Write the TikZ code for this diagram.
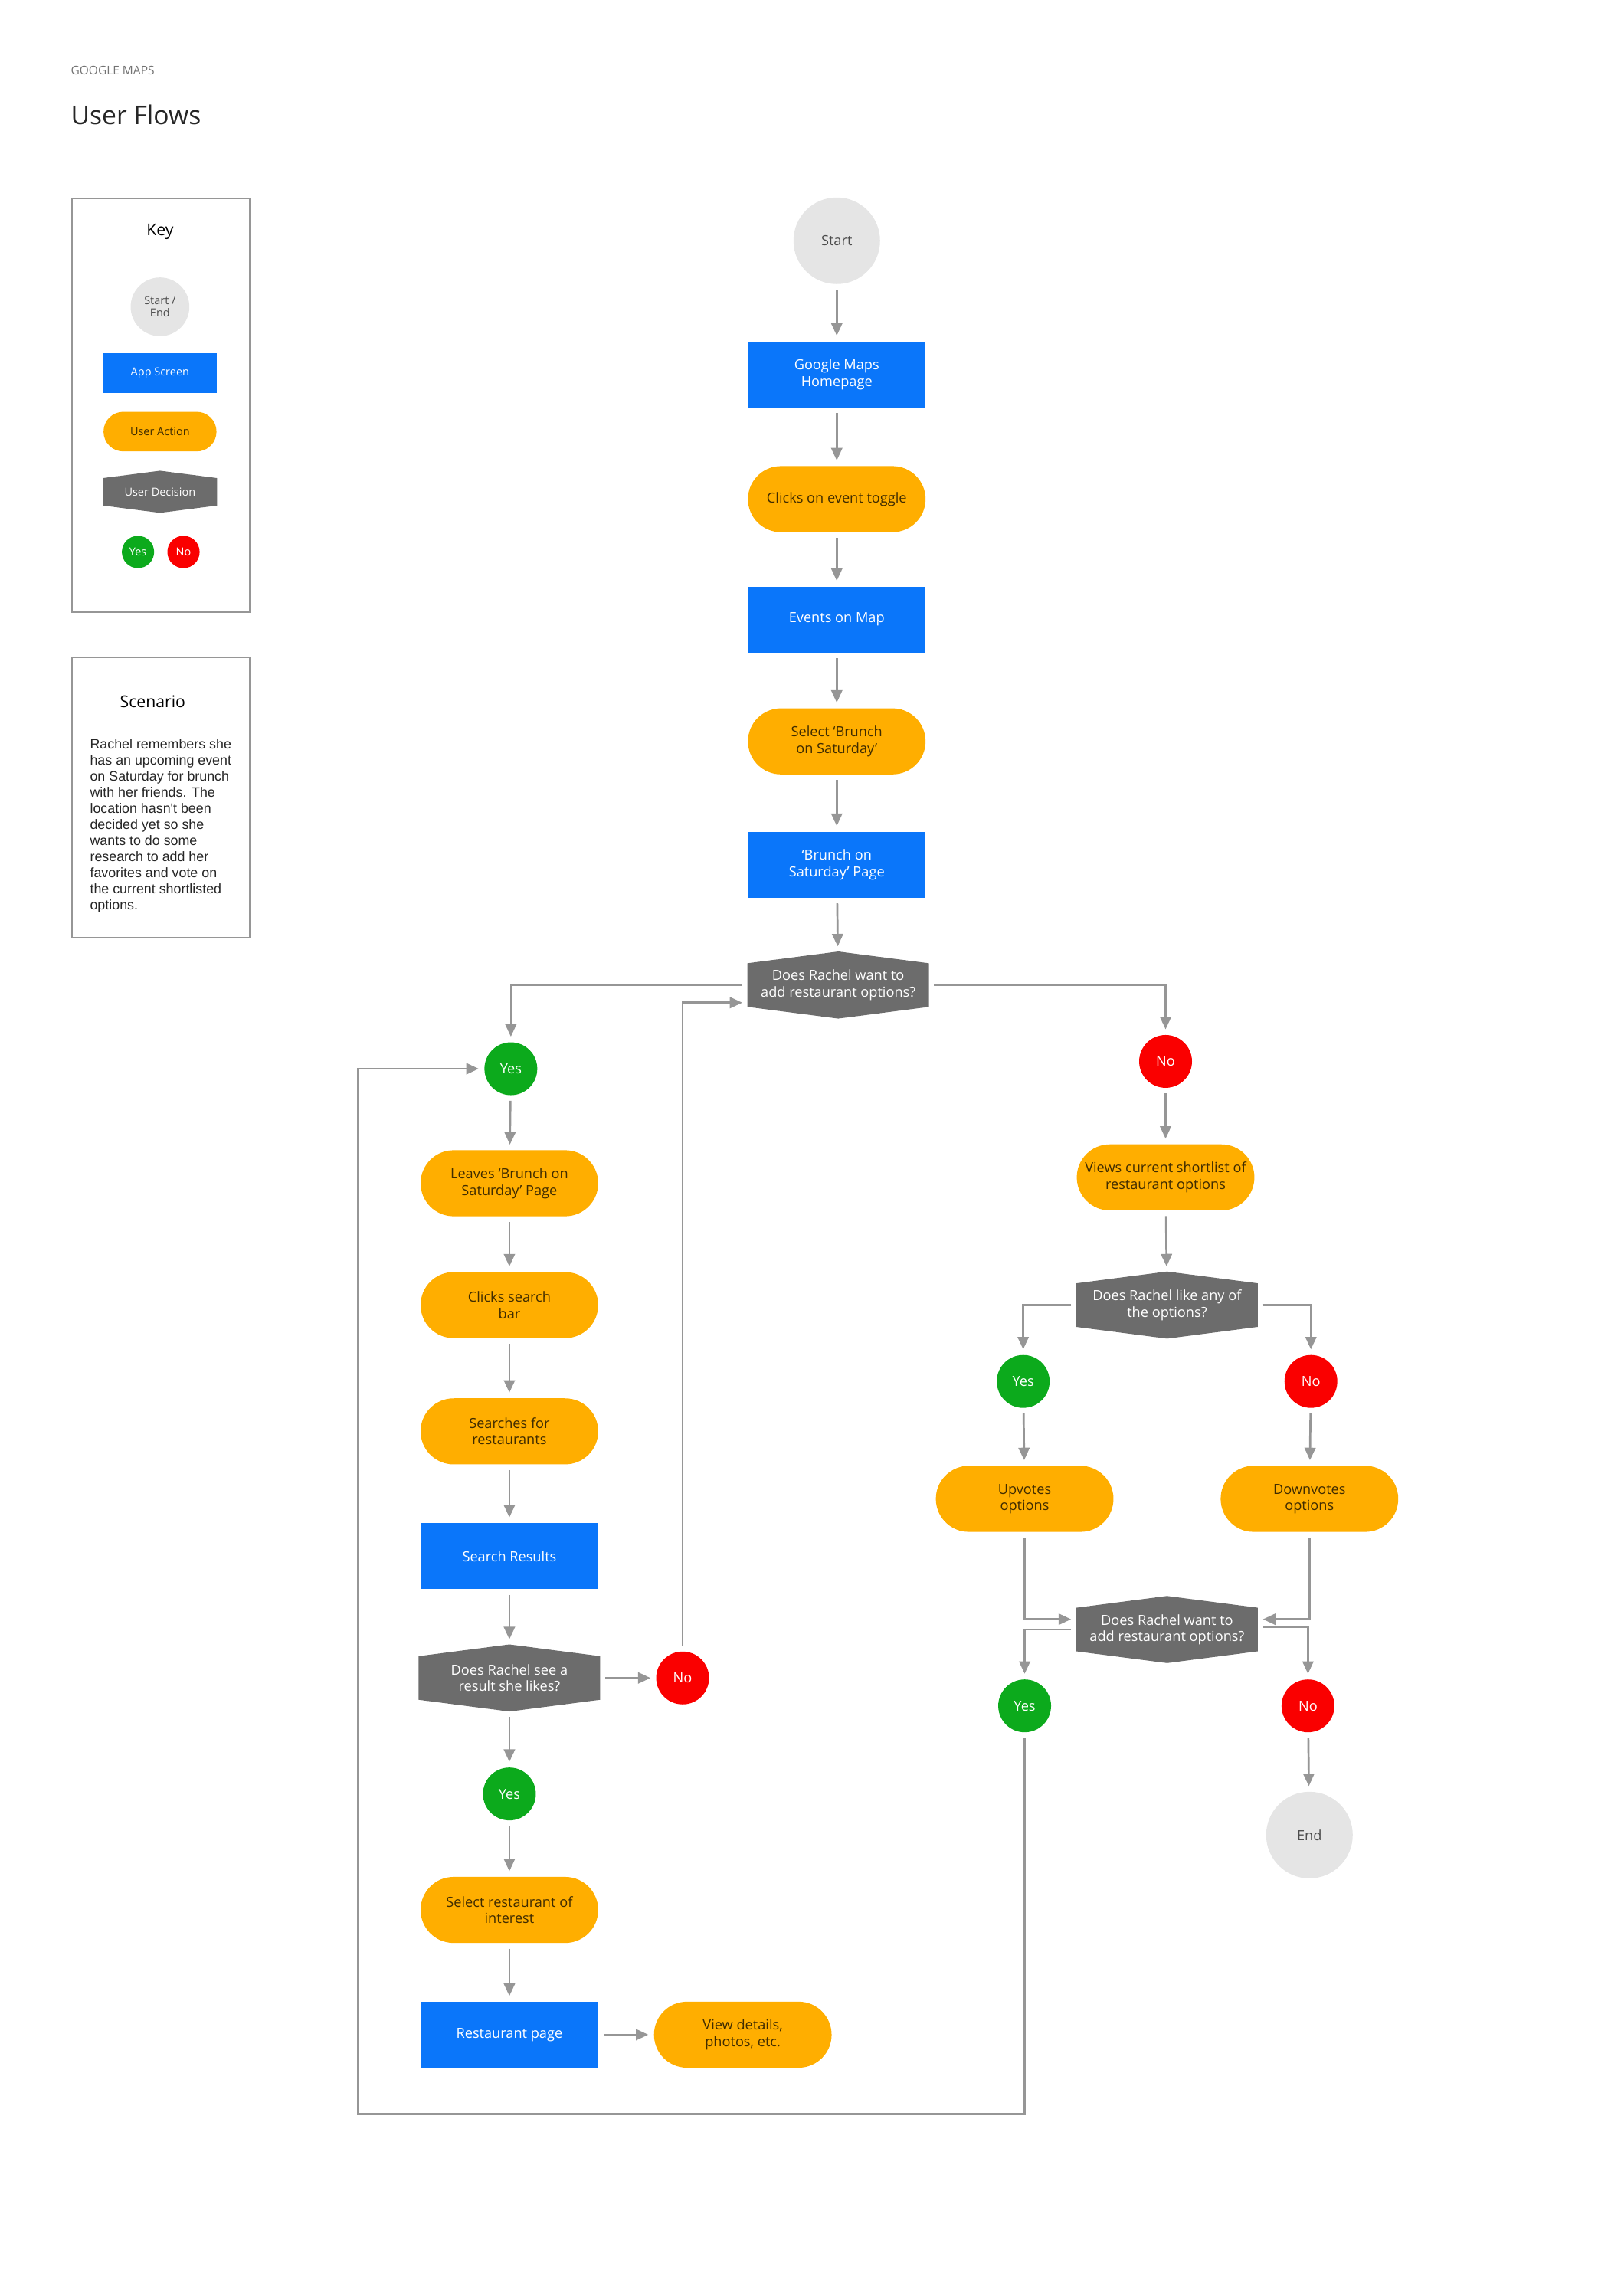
\documentclass[tikz,border=0pt]{standalone}
\usepackage{fontspec}
\setmainfont{Open Sans}
\newfontfamily\scenariofont{Liberation Sans}
\usetikzlibrary{arrows.meta,backgrounds}

\definecolor{screenblue}{RGB}{10,118,250}
\definecolor{actionorange}{RGB}{255,174,0}
\definecolor{decisiongray}{RGB}{108,108,108}
\definecolor{yesgreen}{RGB}{12,170,28}
\definecolor{nored}{RGB}{250,0,0}
\definecolor{endgray}{RGB}{229,229,229}
\definecolor{linegray}{RGB}{150,150,150}

\tikzset{
    txt/.style={font=\fontsize{5.4}{6.4}\selectfont,align=center,inner sep=0pt},
    screen/.style={txt,rectangle,fill=screenblue,text=white,minimum width=2.42cm,minimum height=0.9cm},
    action/.style={txt,rectangle,rounded corners=0.45cm,fill=actionorange,text=black!75!actionorange,minimum width=2.42cm,minimum height=0.9cm},
    decision/.style={txt,rectangle,text=white,minimum width=2.46cm,minimum height=0.9cm},
    yesdot/.style={txt,circle,fill=yesgreen,text=white,minimum size=0.72cm},
    nodot/.style={txt,circle,fill=nored,text=white,minimum size=0.72cm},
    terminal/.style={txt,circle,fill=endgray,text=black!70,minimum size=1.18cm},
    flow/.style={draw=linegray,line width=0.8pt,-{Triangle[length=0.17cm,width=0.15cm]},shorten >=2pt,shorten <=2pt},
}

% hexagon with pointed top and bottom
\newcommand\decisionnode[4]{%
    \node[decision] (#1) at (#2,#3) {#4};
    \begin{pgfonlayer}{background}
        \fill[decisiongray] ([yshift=-0.16cm]#1.north west) -- (#1.north) -- ([yshift=-0.16cm]#1.north east)
        -- ([yshift=0.16cm]#1.south east) -- (#1.south) -- ([yshift=0.16cm]#1.south west) -- cycle;
    \end{pgfonlayer}
}

\begin{document}
\begin{tikzpicture}[x=0.02cm,y=-0.02cm]
    \useasboundingbox (0,0) rectangle (1104,1564);

    % header
    \node[anchor=west,inner sep=0pt,text=black!55,font=\fontsize{4.6}{5}\selectfont] (brand) at (48,48) {GOOGLE MAPS};
    \node[anchor=west,inner sep=0pt,text=black!85,font=\fontsize{10}{12}\selectfont] (title) at (48,78) {User Flows};

    % the key
    \draw[linegray,line width=0.6pt] (49,135) rectangle (170,417);
    \node[txt,font=\fontsize{6.3}{7}\selectfont] (keyhead) at (109,158) {Key};
    \node[terminal,minimum size=0.8cm,font=\fontsize{4.3}{4.6}\selectfont] (keyend) at (109,209) {Start /\\End};
    \node[screen,minimum width=1.54cm,minimum height=0.54cm,font=\fontsize{4.3}{5}\selectfont] (keyscreen) at (109,254) {App Screen};
    \node[action,minimum width=1.54cm,minimum height=0.54cm,rounded corners=0.27cm,font=\fontsize{4.3}{5}\selectfont] (keyaction) at (109,294) {User Action};
    \node[inner sep=0pt,minimum width=1.54cm,minimum height=0.56cm] (keydec) at (109,335) {};
    \fill[decisiongray] ([yshift=-0.1cm]keydec.north west) -- (keydec.north) -- ([yshift=-0.1cm]keydec.north east)
        -- ([yshift=0.1cm]keydec.south east) -- (keydec.south) -- ([yshift=0.1cm]keydec.south west) -- cycle;
    \node[txt,text=white,font=\fontsize{4.3}{5}\selectfont] at (keydec) {User Decision};
    \node[yesdot,minimum size=0.44cm,font=\fontsize{4.3}{5}\selectfont] (keyyes) at (94,376) {Yes};
    \node[nodot,minimum size=0.44cm,font=\fontsize{4.3}{5}\selectfont] (keyno) at (125,376) {No};

    % the scenario
    \draw[linegray,line width=0.6pt] (49,448) rectangle (170,639);
    \node[txt,font=\fontsize{6.3}{7}\selectfont] (scenhead) at (104,478) {Scenario};
    \node[anchor=north west,inner sep=0pt,align=left,text=black!85,font=\scenariofont\fontsize{5.3}{6.25}\selectfont] (scentext) at (61,503)
        {Rachel remembers she\\has an upcoming event\\on Saturday for brunch\\with her friends. The\\location hasn't been\\decided yet so she\\wants to do some\\research to add her\\favorites and vote on\\the current shortlisted\\options.};

    % main column
    \node[terminal] (start) at (570,164) {Start};
    \node[screen] (home) at (570,255) {Google Maps\\Homepage};
    \node[action] (toggle) at (570,340) {Clicks on event toggle};
    \node[screen] (events) at (570,422) {Events on Map};
    \node[action] (brunch) at (570,505) {Select `Brunch\\on Saturday'};
    \node[screen] (page) at (570,589) {`Brunch on\\Saturday' Page};
    \decisionnode{addopt}{571}{671}{Does Rachel want to\\add restaurant options?}

    % searching
    \node[yesdot] (yesadd) at (348,728) {Yes};
    \node[action] (leaves) at (347,806) {Leaves `Brunch on\\Saturday' Page};
    \node[action] (clicks) at (347,889) {Clicks search\\bar};
    \node[action] (searches) at (347,975) {Searches for\\restaurants};
    \node[screen] (results) at (347,1060) {Search Results};
    \decisionnode{likes}{347}{1143}{Does Rachel see a\\result she likes?}
    \node[nodot] (nolike) at (465,1143) {No};
    \node[yesdot] (yeslike) at (347,1222) {Yes};
    \node[action] (select) at (347,1301) {Select restaurant of\\interest};
    \node[screen] (restaurant) at (347,1386) {Restaurant page};
    \node[action] (details) at (506,1386) {View details,\\photos, etc.};

    % voting
    \node[nodot] (noadd) at (794,723) {No};
    \node[action] (views) at (794,802) {Views current shortlist of\\restaurant options};
    \decisionnode{likeany}{795}{889}{Does Rachel like any of\\the options?}
    \node[yesdot] (yesany) at (697,941) {Yes};
    \node[nodot] (noany) at (893,941) {No};
    \node[action] (upvotes) at (698,1021) {Upvotes\\options};
    \node[action] (downvotes) at (892,1021) {Downvotes\\options};
    \decisionnode{addagain}{795}{1110}{Does Rachel want to\\add restaurant options?}
    \node[yesdot] (yesagain) at (698,1162) {Yes};
    \node[nodot] (noagain) at (891,1162) {No};
    \node[terminal] (end) at (892,1250) {End};
    \coordinate (loopcorner) at (244,1440);

    % connectors
    \draw[flow] (start) -- (home);
    \draw[flow] (home) -- (toggle);
    \draw[flow] (toggle) -- (events);
    \draw[flow] (events) -- (brunch);
    \draw[flow] (brunch) -- (page);
    \draw[flow] (page) -- (addopt);
    \draw[flow] (addopt.west) -| (yesadd);
    \draw[flow] (addopt.east) -| (noadd);
    \draw[flow] (yesadd) -- (leaves);
    \draw[flow] (leaves) -- (clicks);
    \draw[flow] (clicks) -- (searches);
    \draw[flow] (searches) -- (results);
    \draw[flow] (results) -- (likes);
    \draw[flow] (likes) -- (nolike);
    \draw[flow] (nolike) |- ([yshift=-0.24cm]addopt.west);
    \draw[flow] (likes) -- (yeslike);
    \draw[flow] (yeslike) -- (select);
    \draw[flow] (select) -- (restaurant);
    \draw[flow] (restaurant) -- (details);
    \draw[flow] (noadd) -- (views);
    \draw[flow] (views) -- (likeany);
    \draw[flow] (likeany.west) -| (yesany);
    \draw[flow] (likeany.east) -| (noany);
    \draw[flow] (yesany) -- (upvotes);
    \draw[flow] (noany) -- (downvotes);
    \draw[flow] (upvotes) |- ([yshift=0.14cm]addagain.west);
    \draw[flow] (downvotes) |- ([yshift=0.14cm]addagain.east);
    \draw[flow] (addagain.west) -| (yesagain);
    \draw[flow] ([yshift=0.04cm]addagain.east) -| (noagain);
    \draw[flow] (noagain) -- (end);
    \draw[flow] (yesagain) |- (loopcorner) |- (yesadd);
\end{tikzpicture}
\end{document}
